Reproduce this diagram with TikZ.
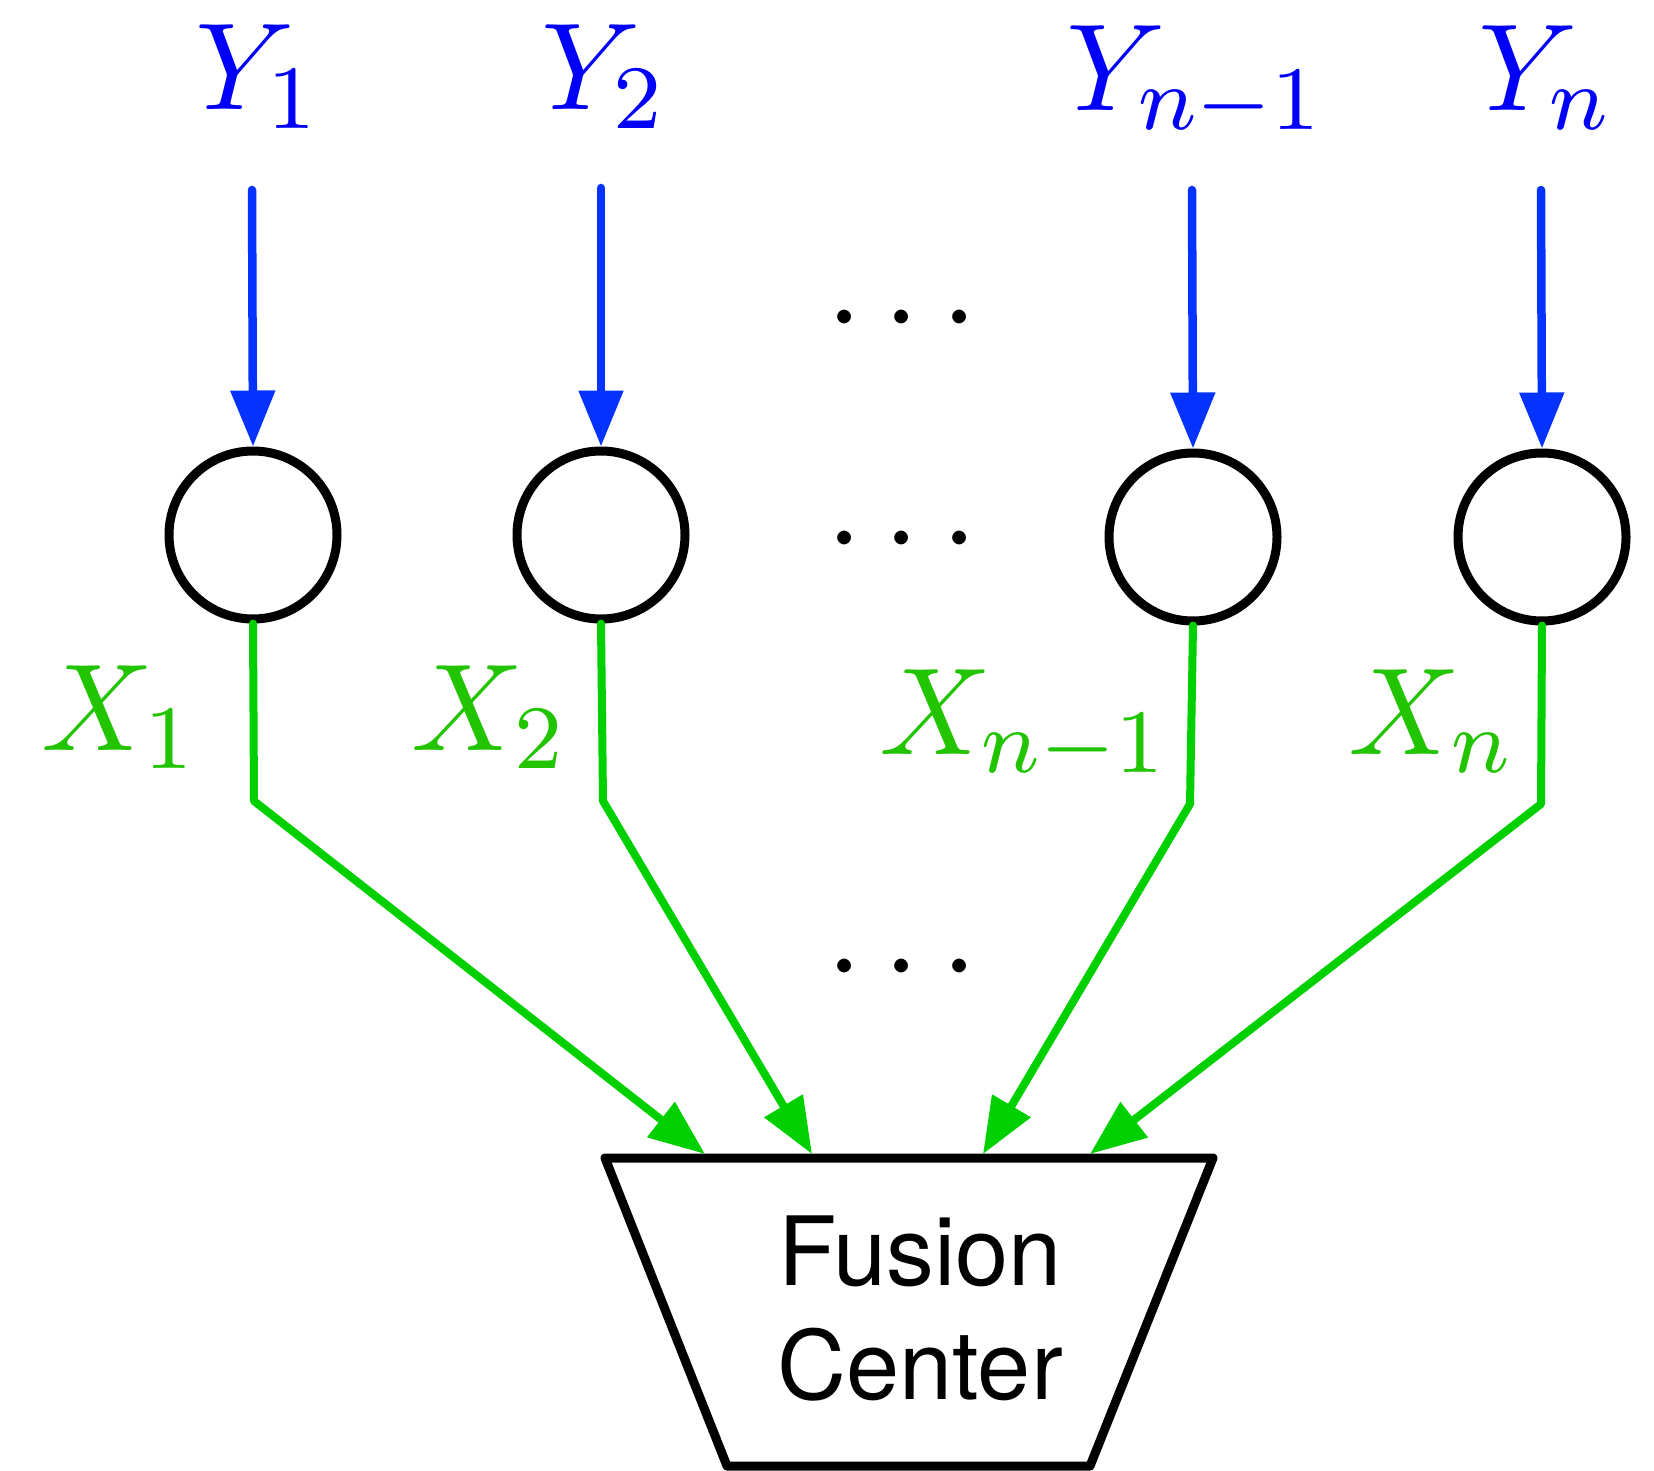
\documentclass[tikz,border=0pt]{standalone}
\usepackage{fontspec}
\setsansfont{TeX Gyre Heros}
\usetikzlibrary{arrows.meta}
\definecolor{ylab}{RGB}{0,0,250}
\definecolor{yline}{RGB}{4,51,255}
\definecolor{xlab}{RGB}{34,196,0}
\definecolor{xline}{RGB}{0,208,0}
\newcommand{\lblmath}[1]{\scalebox{5.66}{\fontsize{10.95}{13}\selectfont$#1$}}
\newcommand{\lbldots}{\scalebox{6.5}{$\cdots$}}
\tikzset{
  bigmath/.style={inner sep=0pt, anchor=base},
  ylabel/.style={bigmath, text=ylab},
  xlabel/.style={bigmath, text=xlab},
  dotsrow/.style={bigmath, text=black},
  sensor/.style={circle, draw=black, line width=4.5pt, minimum size=84pt, inner sep=0pt},
  yarrow/.style={draw=yline, line width=4.25pt, line cap=round, -{Triangle[length=28pt,width=21.5pt]}},
  xarrow/.style={draw=xline, line width=4pt, line cap=round, line join=round, -{Triangle[length=28pt,width=21.5pt]}},
  fusion/.style={draw=black, line width=4.5pt, line join=round},
}
\begin{document}
\begin{tikzpicture}[x=0.5pt,y=-0.5pt]
\useasboundingbox (0,0) rectangle (1654,1471);
% input labels
\node[ylabel] (y1) at (258,110) {\lblmath{Y_1}};
\node[ylabel] (y2) at (604,110) {\lblmath{Y_2}};
\node[ylabel] (y3) at (1196,111) {\lblmath{Y_{n-1}}};
\node[ylabel] (y4) at (1546,111) {\lblmath{Y_n}};
% arrow starts
\coordinate (s1) at (252,190);
\coordinate (s2) at (601,188);
\coordinate (s3) at (1192,190);
\coordinate (s4) at (1541,190);
% sensors
\node[sensor] (c1) at (253,535) {};
\node[sensor] (c2) at (601,535) {};
\node[sensor] (c3) at (1193,537) {};
\node[sensor] (c4) at (1542,537) {};
% dots
\node[dotsrow] (d1) at (902,349) {\lbldots};
\node[dotsrow] (d2) at (902,570) {\lbldots};
\node[dotsrow] (d3) at (902,998) {\lbldots};
% output labels
\node[xlabel] (x1) at (120,750) {\lblmath{X_1}};
\node[xlabel] (x2) at (490,750) {\lblmath{X_2}};
\node[xlabel] (x3) at (1024,754) {\lblmath{X_{n-1}}};
\node[xlabel] (x4) at (1432,754) {\lblmath{X_n}};
% fusion center
\draw[fusion] (605,1158) -- (1213,1158) -- (1090,1466) -- (727,1466) -- cycle;
\node[font=\sffamily\fontsize{47.8}{57}\selectfont, align=center, inner sep=0pt] (fc) at (920,1308) {Fusion\\Center};
\coordinate (t1) at (705,1154);
\coordinate (t2) at (812,1154);
\coordinate (t3) at (983,1154);
\coordinate (t4) at (1090,1154);
% blue arrows
\draw[yarrow] (s1) -- (c1.north);
\draw[yarrow] (s2) -- (c2.north);
\draw[yarrow] (s3) -- (c3.north);
\draw[yarrow] (s4) -- (c4.north);
% green arrows
\draw[xarrow] (c1.south) -- (254,801) -- (t1);
\draw[xarrow] (c2.south) -- (603,801) -- (t2);
\draw[xarrow] (c3.south) -- (1190,804) -- (t3);
\draw[xarrow] (c4.south) -- (1541,804) -- (t4);
\end{tikzpicture}
\end{document}
